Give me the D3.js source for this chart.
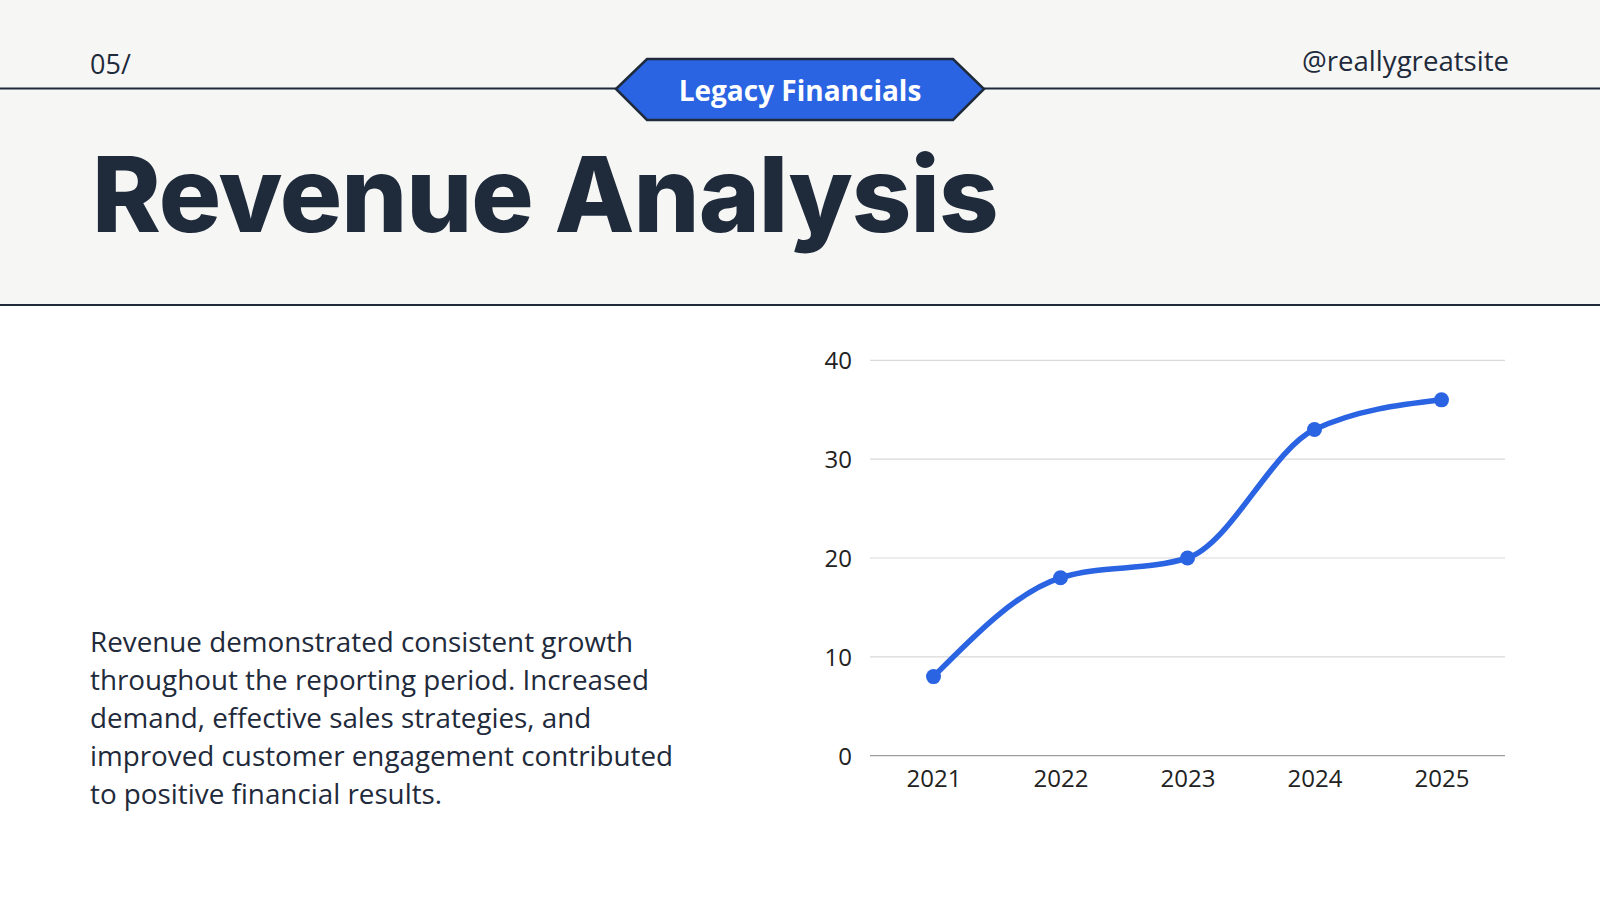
<!DOCTYPE html>
<html>
<head>
<meta charset="utf-8">
<script src="https://cdn.jsdelivr.net/npm/d3@7"></script>
<style>
  html, body { margin: 0; padding: 0; background: #fff; }
  svg { display: block; }
</style>
</head>
<body>
<svg id="chart" width="1600" height="900"></svg>
<script>
// ---- data ----
var years = ['2021', '2022', '2023', '2024', '2025'];
var revenue = [8, 18, 20, 33, 36];
var yTicks = [0, 10, 20, 30, 40];
var bodyLines = [
  'Revenue demonstrated consistent growth',
  'throughout the reporting period. Increased',
  'demand, effective sales strategies, and',
  'improved customer engagement contributed',
  'to positive financial results.'
];

var INK = '#1f2a3b', BLUE = '#2a64e2';
var svg = d3.select('#chart');

// ---- header band ----
svg.append('rect').attr('x', 0).attr('y', 0).attr('width', 1600).attr('height', 305).attr('fill', '#f6f7f5');
svg.append('line').attr('x1', 0).attr('x2', 1600).attr('y1', 305).attr('y2', 305).attr('stroke', INK).attr('stroke-width', 2);
svg.append('line').attr('x1', 0).attr('x2', 1600).attr('y1', 88.5).attr('y2', 88.5).attr('stroke', INK).attr('stroke-width', 2);

svg.append('text').attr('x', 90).attr('y', 74).attr('font-family', 'Open Sans, sans-serif').attr('font-size', 27)
  .attr('fill', INK).text('05/');
svg.append('text').attr('x', 1509).attr('y', 71).attr('text-anchor', 'end').attr('font-family', 'Open Sans, sans-serif')
  .attr('font-size', 27.6).attr('fill', INK).text('@reallygreatsite');

// badge
var badge = [[616, 89], [647, 59], [953, 59], [984, 89], [953, 120], [647, 120]];
svg.append('polygon').attr('points', badge.map(function (p) { return p.join(','); }).join(' '))
  .attr('fill', BLUE).attr('stroke', INK).attr('stroke-width', 2.5).attr('stroke-linejoin', 'miter');
svg.append('text').attr('x', 800).attr('y', 100.5).attr('text-anchor', 'middle').attr('font-family', 'Open Sans, sans-serif')
  .attr('font-weight', 700).attr('font-size', 28).attr('fill', '#fff').text('Legacy Financials');

// title (fit to reference width)
var title = svg.append('text').attr('x', 92).attr('y', 232).attr('font-family', 'Inter, sans-serif')
  .attr('font-weight', 800).attr('font-size', 100).attr('fill', INK).attr('letter-spacing', -1).text('Revenue Analysis');
var tw = title.node().getComputedTextLength();
title.attr('font-size', 100 * 905 / tw);

// body paragraph
var body = svg.append('text').attr('font-family', 'Open Sans, sans-serif').attr('font-size', 27.8).attr('fill', INK);
body.selectAll('tspan').data(bodyLines).enter().append('tspan')
  .attr('x', 90).attr('y', function (d, i) { return 652 + i * 38; }).text(function (d) { return d; });

// ---- chart ----
var x = d3.scalePoint().domain(years).range([870, 1505]).padding(0.5);
var y = d3.scaleLinear().domain([0, 40]).range([755.7, 360.3]);

var gGrid = svg.append('g');
gGrid.selectAll('line').data(yTicks).enter().append('line')
  .attr('x1', 870).attr('x2', 1505)
  .attr('y1', function (d) { return y(d); }).attr('y2', function (d) { return y(d); })
  .attr('stroke', function (d) { return d === 0 ? '#9e9e9e' : '#d9d9d9'; }).attr('stroke-width', 1.2);

var yAxis = svg.append('g').attr('transform', 'translate(870,0)')
  .call(d3.axisLeft(y).tickValues(yTicks).tickSize(0).tickPadding(18));
var xAxis = svg.append('g').attr('transform', 'translate(0,755.7)')
  .call(d3.axisBottom(x).tickSize(0).tickPadding(14));
[yAxis, xAxis].forEach(function (a) {
  a.select('.domain').remove();
  a.selectAll('text').attr('font-family', 'Open Sans, sans-serif').attr('font-size', 24).attr('fill', '#222');
});
yAxis.selectAll('text').attr('dy', '0.36em');

var pts = years.map(function (yr, i) { return { year: yr, v: revenue[i] }; });
var line = d3.line().x(function (d) { return x(d.year); }).y(function (d) { return y(d.v); }).curve(d3.curveMonotoneX);
svg.append('path').datum(pts).attr('d', line).attr('fill', 'none').attr('stroke', BLUE)
  .attr('stroke-width', 5.5).attr('stroke-linecap', 'round').attr('stroke-linejoin', 'round');
svg.append('g').selectAll('circle').data(pts).enter().append('circle')
  .attr('cx', function (d) { return x(d.year); }).attr('cy', function (d) { return y(d.v); })
  .attr('r', 7.5).attr('fill', BLUE);
</script>
</body>
</html>
